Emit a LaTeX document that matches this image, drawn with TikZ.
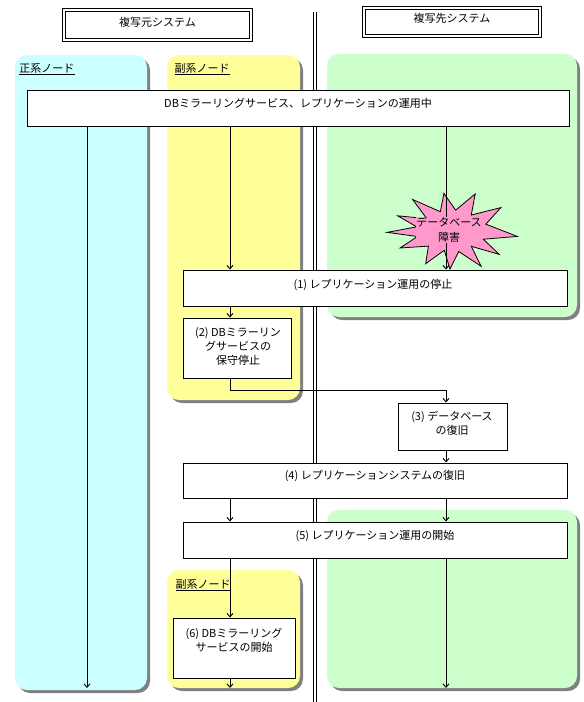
\documentclass[tikz,border=0pt]{standalone}
\usepackage{fontspec}
\setmainfont{Noto Sans CJK JP}
\usetikzlibrary{arrows.meta,calc}
\definecolor{cyanp}{HTML}{CCFFFF}
\definecolor{yellowp}{HTML}{FFFF99}
\definecolor{greenp}{HTML}{CCFFCC}
\definecolor{starpink}{HTML}{FF99CC}
\definecolor{shadowgray}{HTML}{808080}
\begin{document}
\begin{tikzpicture}[x=1pt,y=-1pt,
  font=\fontsize{11}{14}\selectfont,
  line width=1pt,
  panelshadow/.style={fill=shadowgray, rounded corners=12pt},
  hdr/.style={draw, double, double distance=1.6pt, line width=0.9pt, fill=white, inner sep=0pt},
  box/.style={draw, fill=white, inner sep=0pt},
  txt/.style={inner sep=0pt, align=center},
  lbl/.style={inner sep=0pt, anchor=west},
  arr/.style={-{Straight Barb[length=3.5pt,width=6pt]}, line width=0.9pt}
]
\useasboundingbox (0,0) rectangle (584,702);

% panels
\fill[panelshadow] (18,58) rectangle (150,693);
\fill[cyanp, rounded corners=12pt] (15,55) rectangle (147,690);
\fill[panelshadow] (170,58) rectangle (303,403);
\fill[yellowp, rounded corners=12pt] (167,55) rectangle (300,400);
\fill[panelshadow] (330,57) rectangle (580,320);
\fill[greenp, rounded corners=12pt] (327,54) rectangle (577,317);
\fill[panelshadow] (330,513) rectangle (580,691);
\fill[greenp, rounded corners=12pt] (327,510) rectangle (577,688);
\fill[panelshadow] (170,573) rectangle (303,691);
\fill[yellowp, rounded corners=12pt] (167,570) rectangle (300,688);

\node[lbl] (lp) at (19,69) {\underline{正系ノード}};
\node[lbl] (ls1) at (174,69) {\underline{副系ノード}};
\node[lbl] (ls2) at (175,585) {\underline{副系ノード}};

% separator
\coordinate (septop) at (315,12);
\coordinate (sepbot) at (315,702);
\draw[double, double distance=2pt, line width=1pt] (septop) -- (sepbot);

% headers
\node[hdr, minimum width=187pt, minimum height=30pt] (hl) at (157.5,25) {};
\node[txt] (hlt) at (157.5,22) {複写元システム};
\node[hdr, minimum width=176pt, minimum height=28pt] (hr) at (452,22) {};
\node[txt] (hrt) at (452,18) {複写先システム};

% star
\begin{scope}[shift={(452,231)}]
\draw[fill=starpink, line width=0.8pt]
 (8:66 and 39) -- (23:34 and 21) -- (38:60 and 38) -- (50:30 and 20) --
 (62:62 and 40) -- (77:30 and 21) -- (92:58 and 38) -- (105:30 and 20) --
 (118:56 and 37) -- (134:34 and 21) -- (150:60 and 34) -- (164:36 and 20) --
 (178:65 and 39) -- (192:36 and 20) -- (205:60 and 36) -- (218:32 and 20) --
 (232:64 and 40) -- (247:30 and 21) -- (262:58 and 38) -- (277:30 and 21) --
 (292:62 and 40) -- (307:32 and 20) -- (322:62 and 38) -- (340:36 and 20) -- cycle;
\end{scope}

% boxes
\node[box, minimum width=542pt, minimum height=36pt] (main) at (298,108) {};
\node[box, minimum width=384pt, minimum height=36pt] (b1) at (375,288) {};
\node[box, minimum width=108pt, minimum height=60pt] (b2) at (237,348) {};
\node[box, minimum width=109pt, minimum height=47pt] (b3) at (452.5,426.5) {};
\node[box, minimum width=384pt, minimum height=35pt] (b4) at (375,480.5) {};
\node[box, minimum width=384pt, minimum height=36pt] (b5) at (375,540) {};
\node[box, minimum width=122pt, minimum height=60pt] (b6) at (234,648) {};

% connector coordinates
\coordinate (xL) at (87,0);
\coordinate (xM) at (230,0);
\coordinate (xR) at (446,0);
\coordinate (bot) at (0,688);
\coordinate (turn) at (0,390);

\draw[arr] (main.south -| xL) -- (bot -| xL);
\draw[arr] (main.south -| xM) -- (b1.north -| xM);
\draw[arr] (main.south -| xR) -- (b1.north -| xR);
\draw[arr] (b1.south -| xM) -- (b2.north -| xM);
\draw[arr] (b2.south -| xM) -- (turn -| xM) -- (turn -| xR) -- (b3.north -| xR);
\draw[arr] (b3.south -| xR) -- (b4.north -| xR);
\draw[arr] (b4.south -| xM) -- (b5.north -| xM);
\draw[arr] (b4.south -| xR) -- (b5.north -| xR);
\draw[arr] (b5.south -| xM) -- (b6.north -| xM);
\draw[arr] (b5.south -| xR) -- (bot -| xR);
\draw[arr] (b6.south -| xM) -- (bot -| xM);

% star text
\node[txt, fill=starpink, inner sep=0.5pt, font=\fontsize{11}{15}\selectfont] (fail) at (449,230) {データベース\\障害};

% texts
\node[txt] (maint) at (298,103) {DBミラーリングサービス、レプリケーションの運用中};
\node[txt] (b1t) at (373,285) {(1) レプリケーション運用の停止};
\node[txt] (b2t) at (238,346) {(2) DBミラーリン\\グサービスの\\保守停止};
\node[txt] (b3t) at (452,423) {(3) データベース\\の復旧};
\node[txt] (b4t) at (375,476) {(4) レプリケーションシステムの復旧};
\node[txt] (b5t) at (375,536) {(5) レプリケーション運用の開始};
\node[txt] (b6t) at (234,640) {(6) DBミラーリング\\サービスの開始};
\end{tikzpicture}
\end{document}
